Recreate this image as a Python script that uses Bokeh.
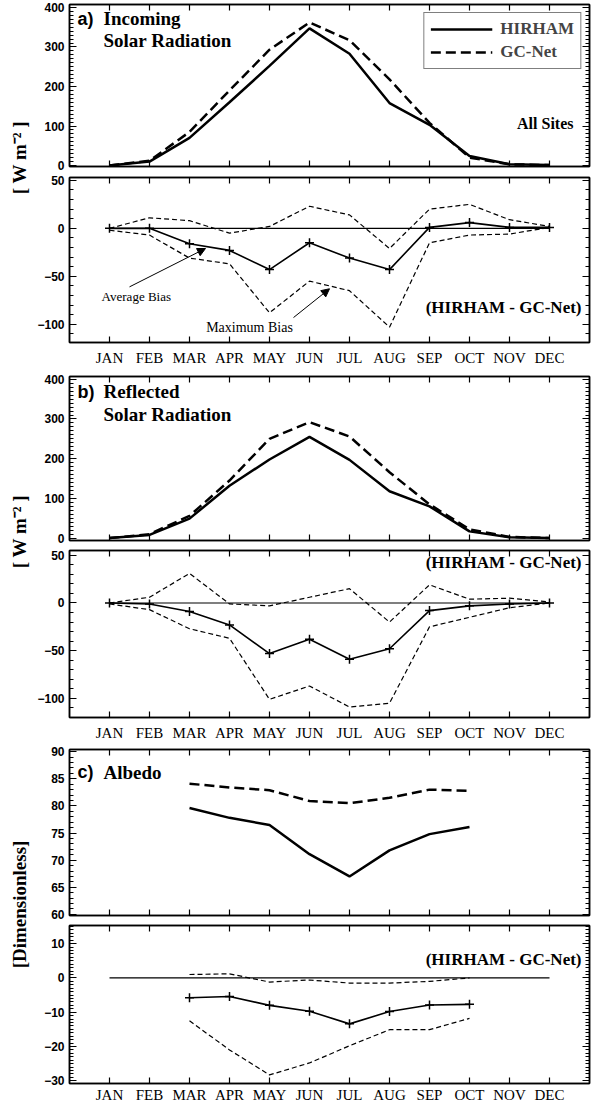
import math
from bokeh.plotting import figure
from bokeh.layouts import column, row
from bokeh.models import (Range1d, LinearAxis, FixedTicker, SingleIntervalTicker,
                          Label, Arrow, NormalHead, Legend, LegendItem)
from bokeh.embed import file_html
from bokeh.resources import INLINE

# ---------------- data ----------------
MONTHS = ["JAN", "FEB", "MAR", "APR", "MAY", "JUN", "JUL", "AUG", "SEP", "OCT", "NOV", "DEC"]
MONTH_NUM = list(range(1, 13))
ALB_MONTH_NUM = list(range(3, 11))
ZERO_LINE = [0] * 12

INC_HIRHAM = [0, 10, 70, 160, 252, 347, 283, 158, 103, 24, 3, 1]
INC_GCNET = [0, 12, 85, 190, 293, 362, 317, 218, 108, 20, 3, 1]
INC_BIAS_AVG = [0, 0, -16, -23, -43, -15, -31, -43, 1, 6, 1, 1]
INC_BIAS_HI = [0, 11, 8, -5, 2, 23, 14, -21, 20, 25, 9, 2]
INC_BIAS_LO = [-2, -7, -31, -37, -88, -55, -65, -103, -15, -7, -6, 1]

REF_HIRHAM = [0, 8, 49, 132, 198, 255, 197, 118, 80, 17, 2, 0]
REF_GCNET = [0, 10, 56, 145, 250, 292, 256, 166, 85, 22, 3, 0]
REF_BIAS_AVG = [0, -1, -9, -23, -53, -38, -59, -48, -8, -3, -1, 0]
REF_BIAS_HI = [0, 6, 31, -1, -3, 6, 15, -20, 19, 4, 5, 1]
REF_BIAS_LO = [-1, -7, -27, -37, -101, -87, -109, -105, -25, -15, -5, 0]

ALB_HIRHAM = [79.6, 77.8, 76.5, 71.1, 67.0, 71.8, 74.8, 76.1]
ALB_GCNET = [84.1, 83.4, 82.9, 80.9, 80.5, 81.5, 83.0, 82.8]
ALB_BIAS_AVG = [-5.8, -5.4, -8.0, -9.7, -13.4, -9.8, -7.9, -7.7]
ALB_BIAS_HI = [1.0, 1.2, -1.2, -0.6, -1.5, -1.5, -1.0, 0.0]
ALB_BIAS_LO = [-12.5, -21.0, -28.3, -24.8, -19.8, -15.1, -15.1, -11.8]

SERIF = "Liberation Serif"
SANS = "Liberation Sans"
PANEL_W = 557
LEFT_B = 35
RIGHT_B = 2


def hide_labels(ax):
    ax.major_label_text_font_size = "0px"
    ax.major_label_text_color = None
    ax.major_label_standoff = 0


def make_fig(ylo, yhi, yint, nminor, top_b, frame_h, bot_b, labels, standoff=7):
    p = figure(width=PANEL_W, height=top_b + frame_h + bot_b,
               x_range=Range1d(0, 13), y_range=Range1d(ylo, yhi),
               toolbar_location=None, output_backend="svg",
               min_border_left=LEFT_B, min_border_right=RIGHT_B,
               min_border_top=top_b, min_border_bottom=bot_b)
    p.grid.visible = False
    p.outline_line_color = "black"
    p.outline_line_width = 1.5
    p.background_fill_color = "white"
    p.border_fill_color = "white"

    def xcfg(ax, show):
        ax.ticker = FixedTicker(ticks=MONTH_NUM, minor_ticks=[])
        ax.major_tick_in = 6
        ax.major_tick_out = 0
        ax.minor_tick_in = 0
        ax.minor_tick_out = 0
        ax.axis_line_width = 1.5
        ax.major_tick_line_width = 1.2
        if show:
            ax.major_label_overrides = {m: s for m, s in zip(MONTH_NUM, MONTHS)}
            ax.major_label_text_font = SERIF
            ax.major_label_text_font_size = "15px"
            ax.major_label_text_color = "black"
            ax.major_label_standoff = standoff
        else:
            hide_labels(ax)

    def ycfg(ax, show):
        ax.ticker = SingleIntervalTicker(interval=yint, num_minor_ticks=nminor)
        ax.major_tick_in = 7
        ax.major_tick_out = 0
        ax.minor_tick_in = 4
        ax.minor_tick_out = 0
        ax.axis_line_width = 1.5
        ax.major_tick_line_width = 1.2
        ax.minor_tick_line_width = 1
        if show:
            ax.major_label_text_font = SANS
            ax.major_label_text_font_style = "bold"
            ax.major_label_text_font_size = "12px"
            ax.major_label_text_color = "black"
            ax.major_label_standoff = 5
        else:
            hide_labels(ax)

    xcfg(p.xaxis[0], labels)
    ycfg(p.yaxis[0], True)
    top = LinearAxis()
    xcfg(top, False)
    p.add_layout(top, "above")
    right = LinearAxis()
    ycfg(right, False)
    p.add_layout(right, "right")
    return p


def main_lines(p, x, h, g):
    rh = p.line(x, h, line_color="black", line_width=2.5)
    rg = p.line(x, g, line_color="black", line_width=2.5, line_dash="10 5")
    return rh, rg


def bias_lines(p, x, avg, hi, lo):
    p.line(MONTH_NUM, ZERO_LINE, line_color="black", line_width=1.2)
    p.line(x, hi, line_color="black", line_width=1.2, line_dash="5 3")
    p.line(x, lo, line_color="black", line_width=1.2, line_dash="5 3")
    p.line(x, avg, line_color="black", line_width=1.6)
    p.scatter(x, avg, marker="cross", size=9, line_color="black", line_width=1.5)


def txt(p, x, y, s, size, font=SERIF, style="bold", align="left"):
    p.add_layout(Label(x=x, y=y, text=s, text_font=font, text_font_style=style,
                       text_font_size=size, text_align=align, text_baseline="middle",
                       text_color="black"))


def hg_note(p, y):
    txt(p, 12.8, y, "(HIRHAM - GC-Net)", "17px", align="right")


# ---------------- panel a ----------------
pa = make_fig(-2.5, 407.5, 100, 10, 4, 162, 6, False)
rh, rg = main_lines(pa, MONTH_NUM, INC_HIRHAM, INC_GCNET)
txt(pa, 0.2, 372, "a)", "18px", font=SANS)
txt(pa, 0.85, 372, "Incoming", "19px")
txt(pa, 0.85, 317, "Solar Radiation", "19px")
txt(pa, 12.6, 107, "All Sites", "16px", align="right")
leg = Legend(items=[LegendItem(label="HIRHAM", renderers=[rh]),
                    LegendItem(label="GC-Net", renderers=[rg])],
             location="top_right", glyph_width=62, glyph_height=20, label_height=20,
             label_text_font=SERIF, label_text_font_style="bold", label_text_font_size="17px",
             border_line_color="black", border_line_width=1.5, padding=6, spacing=3,
             margin=8, label_standoff=8, background_fill_color="white")
pa.add_layout(leg)

pab = make_fig(-119, 53, 50, 5, 5, 165, 28, True)
bias_lines(pab, MONTH_NUM, INC_BIAS_AVG, INC_BIAS_HI, INC_BIAS_LO)
hg_note(pab, -83)
txt(pab, 1.67, -71, "Average Bias", "13px", style="normal", align="center")
txt(pab, 4.5, -103, "Maximum Bias", "14px", style="normal", align="center")
head = dict(size=8, fill_color="black", line_color="black")
pab.add_layout(Arrow(end=NormalHead(**head), x_start=1.5, y_start=-61, x_end=3.4, y_end=-21,
                     line_color="black", line_width=1))
pab.add_layout(Arrow(end=NormalHead(**head), x_start=5.6, y_start=-93, x_end=6.5, y_end=-63,
                     line_color="black", line_width=1))

# ---------------- panel b ----------------
pb = make_fig(-6, 407, 100, 10, 6, 164, 6, False)
main_lines(pb, MONTH_NUM, REF_HIRHAM, REF_GCNET)
txt(pb, 0.2, 369, "b)", "18px", font=SANS)
txt(pb, 0.85, 369, "Reflected", "19px")
txt(pb, 0.85, 311, "Solar Radiation", "19px")

pbb = make_fig(-120, 55, 50, 5, 4, 167, 27, True)
bias_lines(pbb, MONTH_NUM, REF_BIAS_AVG, REF_BIAS_HI, REF_BIAS_LO)
hg_note(pbb, 42)

# ---------------- panel c ----------------
pc = make_fig(59.8, 90.4, 5, 5, 5, 166, 6, False)
main_lines(pc, ALB_MONTH_NUM, ALB_HIRHAM, ALB_GCNET)
txt(pc, 0.2, 86.2, "c)", "18px", font=SANS)
txt(pc, 0.85, 86.2, "Albedo", "19px")

pcb = make_fig(-30.8, 15.3, 10, 10, 4, 161, 19, True, standoff=3)
bias_lines(pcb, ALB_MONTH_NUM, ALB_BIAS_AVG, ALB_BIAS_HI, ALB_BIAS_LO)
hg_note(pcb, 5.4)

panels = [pa, pab, pb, pbb, pc, pcb]
total_h = sum(f.height for f in panels)

# ---------------- y-axis titles ----------------
LW = 34
pl = figure(width=LW, height=total_h, x_range=Range1d(0, LW), y_range=Range1d(0, total_h),
            toolbar_location=None, output_backend="svg", min_border=0,
            x_axis_location=None, y_axis_location=None)
pl.grid.visible = False
pl.outline_line_color = None
for yc, s in [(165, "[ W m\u207b\u00b2 ]"), (539, "[ W m\u207b\u00b2 ]"), (912, "[Dimensionless]")]:
    pl.add_layout(Label(x=19, y=total_h - (yc - 8), text=s, angle=math.pi / 2,
                        text_font=SERIF, text_font_style="bold", text_font_size="19px",
                        text_align="center", text_baseline="middle", text_color="black"))

layout = row(pl, column(*panels))
open("out.html", "w").write(file_html(layout, INLINE))
